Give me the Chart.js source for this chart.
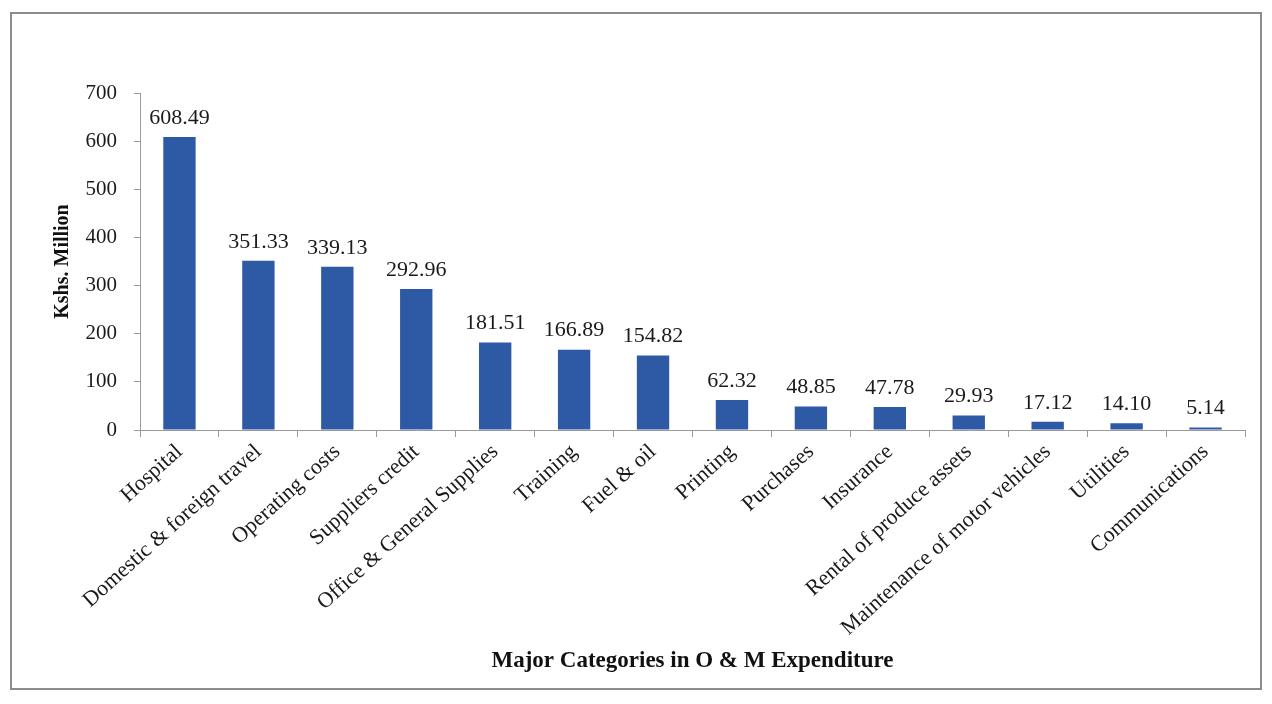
<!DOCTYPE html>
<html>
<head>
<meta charset="utf-8">
<script src="https://cdn.jsdelivr.net/npm/chart.js@4"></script>
<style>
  html, body { margin: 0; padding: 0; background: #fff; }
  #wrap { width: 1272px; height: 704px; position: relative; }
</style>
</head>
<body>
<div id="wrap"><canvas id="bars" width="1272" height="704"></canvas></div>
<script>
var categories = ['Hospital', 'Domestic & foreign travel', 'Operating costs', 'Suppliers credit',
    'Office & General Supplies', 'Training', 'Fuel & oil', 'Printing', 'Purchases', 'Insurance',
    'Rental of produce assets', 'Maintenance of motor vehicles', 'Utilities', 'Communications'];
var expenditure = [608.49, 351.33, 339.13, 292.96, 181.51, 166.89, 154.82, 62.32, 48.85, 47.78,
    29.93, 17.12, 14.10, 5.14];
var yTicks = [0, 100, 200, 300, 400, 500, 600, 700];

var serif = "'Liberation Serif', 'Times New Roman', serif";

// frame round the whole picture
var framePlugin = {
    id: 'frame',
    beforeDraw: function (chart) {
        var ctx = chart.ctx;
        ctx.save();
        ctx.fillStyle = '#fff';
        ctx.fillRect(0, 0, chart.width, chart.height);
        ctx.strokeStyle = '#8c8c8c';
        ctx.lineWidth = 2;
        ctx.strokeRect(11, 13, 1250, 676);
        ctx.restore();
    }
};

// value written above each bar
var valueLabels = {
    id: 'valueLabels',
    afterDatasetsDraw: function (chart) {
        var ctx = chart.ctx;
        var meta = chart.getDatasetMeta(0);
        ctx.save();
        ctx.font = '22px ' + serif;
        ctx.fillStyle = '#1a1a1a';
        ctx.textAlign = 'center';
        ctx.textBaseline = 'bottom';
        meta.data.forEach(function (bar, i) {
            ctx.fillText(expenditure[i].toFixed(2), bar.x, bar.y - 8);
        });
        ctx.restore();
    }
};

var ctx = document.getElementById('bars').getContext('2d');
var chart = new Chart(ctx, {
    type: 'bar',
    data: {
        labels: categories,
        datasets: [{
            label: 'Kshs. Million',
            data: expenditure,
            backgroundColor: '#2e5aa5',
            borderWidth: 0,
            barPercentage: 0.41,
            categoryPercentage: 1
        }]
    },
    plugins: [framePlugin, valueLabels],
    options: {
        responsive: false,
        animation: false,
        layout: { padding: { left: 10, right: 27, top: 93, bottom: 0 } },
        plugins: {
            legend: { display: false },
            tooltip: { enabled: false }
        },
        scales: {
            x: {
                afterFit: function (scale) { scale.height = 274; },
                grid: { drawOnChartArea: false, offset: true, tickLength: 7, color: '#9a9a9a' },
                border: { color: '#9a9a9a' },
                ticks: {
                    minRotation: 42,
                    maxRotation: 42,
                    autoSkip: false,
                    padding: 2,
                    color: '#1a1a1a',
                    font: { family: serif, size: 22 }
                },
                title: {
                    display: true,
                    text: 'Major Categories in O & M Expenditure',
                    color: '#111',
                    font: { family: serif, size: 23, weight: 'bold' },
                    padding: { top: 4, bottom: 29 }
                }
            },
            y: {
                min: 0,
                max: 700,
                afterFit: function (scale) { scale.width = 130; },
                afterBuildTicks: function (scale) {
                    scale.ticks = yTicks.map(function (v) { return { value: v }; });
                },
                grid: { drawOnChartArea: false, tickLength: 6, color: '#9a9a9a' },
                border: { color: '#9a9a9a' },
                ticks: {
                    padding: 17,
                    color: '#1a1a1a',
                    font: { family: serif, size: 21 }
                },
                title: {
                    display: true,
                    text: 'Kshs. Million',
                    color: '#111',
                    font: { family: serif, size: 20, weight: 'bold' },
                    padding: { top: 41, bottom: 0 }
                }
            }
        }
    }
});
</script>
</body>
</html>
